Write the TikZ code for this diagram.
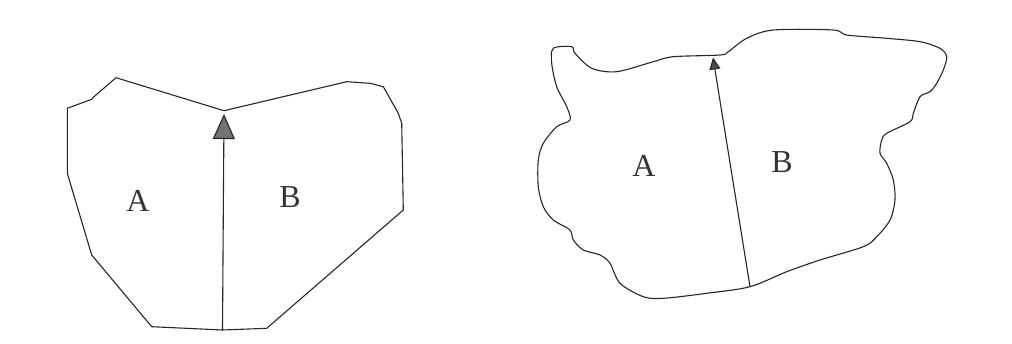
\documentclass[tikz,border=0pt]{standalone}
\usepackage{fontspec}
\setmainfont{Liberation Serif}
\usetikzlibrary{arrows.meta}
\begin{document}
\begin{tikzpicture}[x=1pt,y=-1pt,
  outline/.style={draw=black!85,line width=1.1pt,line join=round},
  divider/.style={draw=black!85,line width=1.1pt},
  lbl/.style={font=\fontsize{32}{34}\selectfont,text=black!80,inner sep=0pt}]
\useasboundingbox (0,0) rectangle (1012,343);
% left shape
\draw[outline] (67.3,108.3) -- (91.7,99.3) -- (93.3,97.3) -- (116,77.7) -- (224,110.7)
  -- (346.7,81.7) -- (370,83.3) -- (383.3,86.7) -- (398.3,113.3) -- (401.7,123.3)
  -- (403.3,210) -- (266.7,328.3) -- (222.5,330) -- (151.7,326.7) -- (91.7,255)
  -- (67.3,173.3) -- cycle;
\coordinate (lb) at (222.5,330);
\coordinate (lt) at (224,114);
\draw[divider,-{Triangle[length=25pt,width=22pt,fill=black!55]}] (lb) -- (lt);
\node[lbl] (la) at (138,201) {A};
\node[lbl] (lbB) at (290,197) {B};
% right shape
\draw[outline] plot[smooth cycle,tension=0.5] coordinates {
 (553.3,48.3) (571.7,46.7) (575,53.3) (591.7,68.3) (616.7,71.7) (653.3,61.7)
 (673.3,56.7) (720,55) (728.3,51.7) (746.7,38.3) (773.3,30) (833.3,30)
 (846.7,35) (886.7,38.3) (920,41.7) (940,48.3) (946.7,56.7) (943.3,70)
 (936.7,83.3) (930,91.7) (920,96.7) (913.3,113.3) (910,121.7) (886.7,133.3)
 (881.7,140) (880,153.3) (886.7,163.3) (893.3,180) (895,200) (890,220)
 (876.7,236.7) (863.3,246.7) (820,260) (786.7,271.7) (750,286.7) (706.7,293.3)
 (663.3,298.3) (643.3,296.7) (620,283.3) (610,263.3) (600,255) (583.3,250)
 (573.3,240) (570,230) (553.3,220) (543.3,206.7) (538.3,186.7) (538.3,160)
 (543.3,143.3) (556.7,126.7) (570,120) (566.7,106.7) (556.7,86.7) (551.7,63.3)};
\coordinate (rb) at (750,286.7);
\coordinate (rt) at (713,57.5);
\draw[divider,-{Triangle[length=12pt,width=11pt,fill=black!70]}] (rb) -- (rt);
\node[lbl] (ra) at (644,166) {A};
\node[lbl] (rB) at (782,162) {B};
\end{tikzpicture}
\end{document}
